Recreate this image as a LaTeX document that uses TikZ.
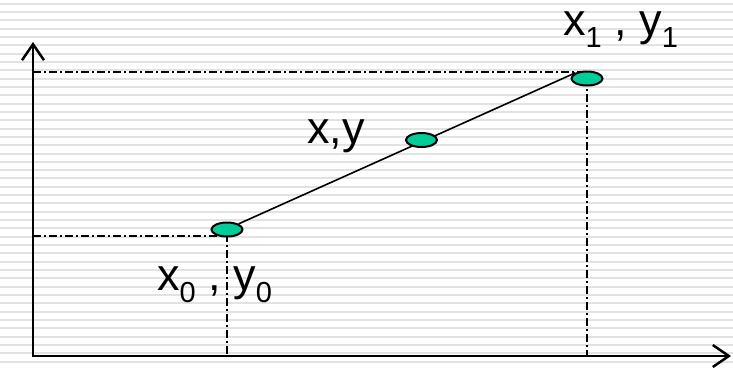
\documentclass[tikz,border=0pt]{standalone}
\usepackage{fontspec}
\setmainfont{Liberation Sans}
\usetikzlibrary{arrows.meta,shapes.geometric}
\definecolor{stripe}{RGB}{226,226,226}
\definecolor{ptfill}{RGB}{0,204,153}
\newcommand{\subx}[1]{\raisebox{-12.5bp}{\fontsize{29bp}{30bp}\selectfont #1}}
\begin{document}
\begin{tikzpicture}[x=1bp,y=-1bp,
  axis/.style={line width=2.5bp,line join=miter,
    {Straight Barb[length=16bp,width=22bp,line width=2.5bp]}-{Straight Barb[length=16bp,width=22bp,line width=2.5bp]}},
  guide/.style={line width=1.6bp,dash pattern=on 8bp off 3bp on 2bp off 3bp},
  dot/.style={ellipse,draw,line width=2bp,fill=ptfill,minimum width=31bp,minimum height=14bp,inner sep=0pt},
  lbl/.style={anchor=base west,inner sep=0pt,font=\fontsize{45bp}{50bp}\selectfont}]
\useasboundingbox (0,0) rectangle (733,367);
\fill[white] (0,0) rectangle (733,367);
\foreach \i in {0,...,43} \fill[stripe] (0,{3.5+8.333*\i-1}) rectangle (733,{3.5+8.333*\i+1});
\coordinate (O) at (33,356);
\coordinate (Xend) at (731,356);
\coordinate (Yend) at (33,42);
\coordinate (c0) at (227,236);
\coordinate (c1) at (587,72);
\draw[guide] (O |- c0) -- (c0) -- (c0 |- O);
\draw[guide] (O |- c1) -- (c1) -- (c1 |- O);
\draw[axis] (Yend) -- (O) -- (Xend);
\node[dot] (p0) at (227,229.5) {};
\node[dot] (p1) at (587,78.5) {};
\draw[line width=1.6bp] (p0.north east) -- (p1.north west);
\node[dot] (pm) at (421.5,140) {};
\node[lbl] (l1) at (563,35) {x\subx{1} , y\subx{1}};
\node[lbl] (lm) at (307,143) {x,y};
\node[lbl] (l0) at (157,290) {x\subx{0} , y\subx{0}};
\end{tikzpicture}
\end{document}
